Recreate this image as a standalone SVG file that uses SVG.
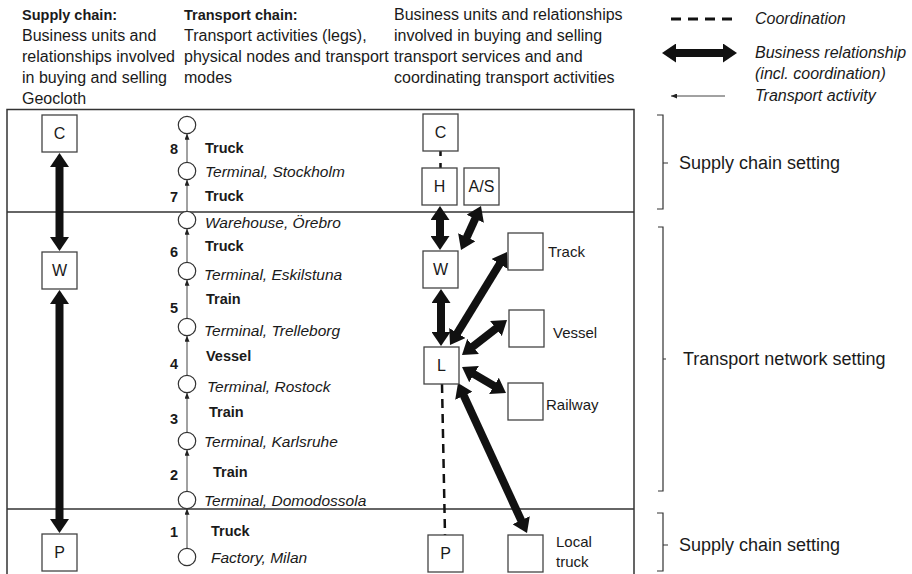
<svg xmlns="http://www.w3.org/2000/svg" width="912" height="574" viewBox="0 0 912 574">
<defs>
<marker id="big" markerUnits="userSpaceOnUse" markerWidth="14" markerHeight="19" refX="4" refY="9.5" orient="auto-start-reverse"><path d="M0,0 L14,9.5 L0,19 z" fill="#111"/></marker>
<marker id="small" markerUnits="userSpaceOnUse" markerWidth="6" markerHeight="5" refX="6" refY="2.5" orient="auto"><path d="M0,0 L6,2.5 L0,5 z" fill="#222"/></marker>
<style>
text{font-family:"Liberation Sans",Arial,sans-serif;fill:#1a1a1a}
.h{font-size:16px}
.hb{font-size:14.5px;font-weight:bold}
.loc{font-size:15.5px;font-style:italic}
.mode{font-size:14.5px;font-weight:bold}
.num{font-size:14.5px;font-weight:bold;text-anchor:end}
.lab{font-size:15px}
.set{font-size:18px}
.leg{font-size:16px;font-style:italic}
.nl{font-size:16px;text-anchor:middle}
.box{fill:#fff;stroke:#444;stroke-width:1.3}
.circ{fill:#fff;stroke:#333;stroke-width:1.2}
.frame{stroke:#333;stroke-width:1.5;fill:none}
.brace{stroke:#333;stroke-width:1.2;fill:none}
.thick{stroke:#111;stroke-width:8;marker-start:url(#big);marker-end:url(#big)}
.thin{stroke:#444;stroke-width:1;marker-end:url(#small)}
.dash{stroke:#111;stroke-width:2.5;stroke-dasharray:9 6;fill:none}
</style>
</defs>

<!-- headers -->
<g id="header-supply">
<text class="hb" x="22" y="20">Supply chain:</text>
<text class="h" x="22" y="41">Business units and</text>
<text class="h" x="22" y="62">relationships involved</text>
<text class="h" x="22" y="83">in buying and selling</text>
<text class="h" x="22" y="104">Geocloth</text>
</g>
<g id="header-transport">
<text class="hb" x="184" y="20">Transport chain:</text>
<text class="h" x="184" y="41">Transport activities (legs),</text>
<text class="h" x="184" y="62">physical nodes and transport</text>
<text class="h" x="184" y="83">modes</text>
</g>
<g id="header-business">
<text class="h" x="394" y="20">Business units and relationships</text>
<text class="h" x="394" y="41">involved in buying and selling</text>
<text class="h" x="394" y="62">transport services and and</text>
<text class="h" x="394" y="83">coordinating transport activities</text>
</g>

<!-- legend -->
<g id="legend">
<line x1="671" y1="19" x2="732" y2="19" stroke="#111" stroke-width="3" stroke-dasharray="10 7"/>
<text class="leg" x="755" y="24">Coordination</text>
<line class="thick" x1="672" y1="53" x2="727" y2="53"/>
<text class="leg" x="755" y="58">Business relationship</text>
<text class="leg" x="755" y="79">(incl. coordination)</text>
<line class="thin" x1="725" y1="96" x2="671" y2="96"/>
<text class="leg" x="755" y="101">Transport activity</text>
</g>

<!-- frame -->
<g id="frame">
<path class="frame" d="M7,574 V109.5 H634 V574"/>
<line class="frame" x1="7" y1="212" x2="634" y2="212"/>
<line class="frame" x1="7" y1="509" x2="634" y2="509"/>
</g>

<!-- braces -->
<g id="brace-top">
<path class="brace" d="M657,115 H663 V209 H657 M663,163 H668"/>
<text class="set" x="679" y="169">Supply chain setting</text>
</g>
<g id="brace-mid">
<path class="brace" d="M658,227 H663 V491 H658 M663,359 H666"/>
<text class="set" x="683" y="365">Transport network setting</text>
</g>
<g id="brace-bottom">
<path class="brace" d="M657,513 H663 V571 H657 M663,545 H668"/>
<text class="set" x="679" y="551">Supply chain setting</text>
</g>

<!-- connectors -->
<g id="connectors">
<line class="thick" x1="59.5" y1="163" x2="59.5" y2="241"/>
<line class="thick" x1="59.5" y1="300" x2="59.5" y2="523"/>
<line class="thick" x1="440" y1="216" x2="440" y2="240"/>
<line class="thick" x1="476.86" y1="215.1" x2="465.14" y2="240.9"/>
<line class="thick" x1="441" y1="299" x2="441" y2="336"/>
<line class="thick" x1="455.23" y1="336.47" x2="501.77" y2="260.53"/>
<line class="thick" x1="469.89" y1="348.86" x2="499.11" y2="326.14"/>
<line class="thick" x1="470.61" y1="372.09" x2="497.39" y2="387.91"/>
<line class="thick" x1="462.18" y1="392.08" x2="522.82" y2="523.92"/>
<line class="dash" x1="440.5" y1="151" x2="440.5" y2="168" style="stroke-dasharray:5 7"/>
<line class="dash" x1="442" y1="384" x2="445" y2="535"/>
<line class="thin" x1="187" y1="548.3" x2="187" y2="508.7"/>
<line class="thin" x1="187" y1="491.3" x2="187" y2="449.7"/>
<line class="thin" x1="187" y1="432.3" x2="187" y2="392.7"/>
<line class="thin" x1="187" y1="375.3" x2="187" y2="335.7"/>
<line class="thin" x1="187" y1="318.3" x2="187" y2="279.7"/>
<line class="thin" x1="187" y1="262.3" x2="187" y2="228.7"/>
<line class="thin" x1="187" y1="211.3" x2="187" y2="179.7"/>
<line class="thin" x1="187" y1="162.3" x2="187" y2="133.7"/>
</g>

<!-- left column nodes -->
<g id="node-C-left"><rect class="box" x="42" y="115" width="35" height="37"/><text class="nl" x="59.5" y="139">C</text></g>
<g id="node-W-left"><rect class="box" x="42" y="252" width="35" height="37"/><text class="nl" x="59.5" y="276">W</text></g>
<g id="node-P-left"><rect class="box" x="42" y="534" width="35" height="37"/><text class="nl" x="59.5" y="558">P</text></g>

<!-- transport chain -->
<g id="tc-top"><circle class="circ" cx="187" cy="125" r="8.7"/></g>
<g id="tc-stockholm"><circle class="circ" cx="187" cy="171" r="8.7"/><text class="loc" x="205" y="176.5">Terminal, Stockholm</text></g>
<g id="tc-orebro"><circle class="circ" cx="187" cy="220" r="8.7"/><text class="loc" x="205" y="227.5">Warehouse, Örebro</text></g>
<g id="tc-eskilstuna"><circle class="circ" cx="187" cy="271" r="8.7"/><text class="loc" x="204" y="279.5">Terminal, Eskilstuna</text></g>
<g id="tc-trelleborg"><circle class="circ" cx="187" cy="327" r="8.7"/><text class="loc" x="204" y="335.5">Terminal, Trelleborg</text></g>
<g id="tc-rostock"><circle class="circ" cx="187" cy="384" r="8.7"/><text class="loc" x="207" y="391.5">Terminal, Rostock</text></g>
<g id="tc-karlsruhe"><circle class="circ" cx="187" cy="441" r="8.7"/><text class="loc" x="204" y="446.5">Terminal, Karlsruhe</text></g>
<g id="tc-domodossola"><circle class="circ" cx="187" cy="500" r="8.7"/><text class="loc" x="204" y="505.5">Terminal, Domodossola</text></g>
<g id="tc-milan"><circle class="circ" cx="187" cy="557" r="8.7"/><text class="loc" x="211" y="562.5">Factory, Milan</text></g>

<g id="legs">
<text class="num" x="178" y="154">8</text><text class="mode" x="205" y="153">Truck</text>
<text class="num" x="178" y="202">7</text><text class="mode" x="205" y="201">Truck</text>
<text class="num" x="178" y="257">6</text><text class="mode" x="205" y="251">Truck</text>
<text class="num" x="178" y="313">5</text><text class="mode" x="206" y="304">Train</text>
<text class="num" x="178" y="369">4</text><text class="mode" x="206" y="361">Vessel</text>
<text class="num" x="178" y="424">3</text><text class="mode" x="209" y="417">Train</text>
<text class="num" x="178" y="480">2</text><text class="mode" x="213" y="477">Train</text>
<text class="num" x="178" y="537">1</text><text class="mode" x="211" y="536">Truck</text>
</g>

<!-- right column nodes -->
<g id="node-C-right"><rect class="box" x="423" y="114" width="35" height="37"/><text class="nl" x="440.5" y="138">C</text></g>
<g id="node-H"><rect class="box" x="422" y="168" width="35" height="37"/><text class="nl" x="439.5" y="192">H</text></g>
<g id="node-AS"><rect class="box" x="464" y="168" width="35" height="37"/><text class="nl" x="481.5" y="192">A/S</text></g>
<g id="node-W-right"><rect class="box" x="423" y="251" width="35" height="37"/><text class="nl" x="440.5" y="275">W</text></g>
<g id="node-L"><rect class="box" x="424" y="347" width="35" height="37"/><text class="nl" x="441.5" y="371">L</text></g>
<g id="node-track"><rect class="box" x="508" y="233" width="35" height="37"/><text class="lab" x="548" y="257">Track</text></g>
<g id="node-vessel"><rect class="box" x="509" y="310" width="35" height="37"/><text class="lab" x="553" y="338">Vessel</text></g>
<g id="node-railway"><rect class="box" x="508" y="383" width="35" height="37"/><text class="lab" x="546" y="410">Railway</text></g>
<g id="node-P-right"><rect class="box" x="428" y="535" width="35" height="37"/><text class="nl" x="445.5" y="559">P</text></g>
<g id="node-localtruck"><rect class="box" x="508" y="535" width="35" height="37"/><text class="lab" x="556" y="547">Local</text><text class="lab" x="556" y="567">truck</text></g>
</svg>
